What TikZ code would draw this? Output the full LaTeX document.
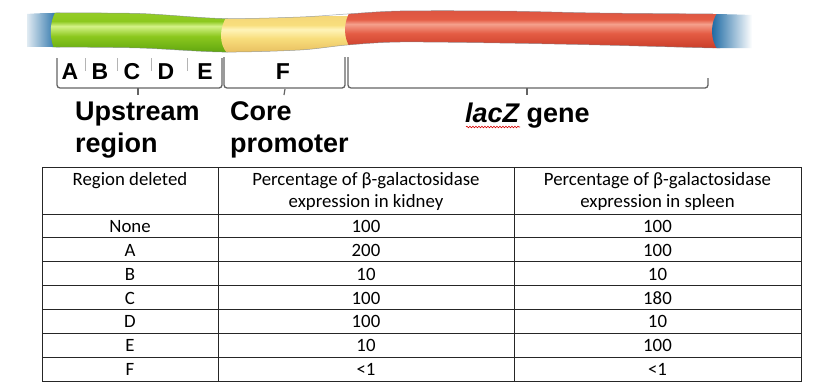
\documentclass[tikz,border=0pt]{standalone}
\usepackage{fontspec}
\setmainfont{Carlito}
\newfontfamily\arialfont{Liberation Sans}
\usetikzlibrary{decorations.pathmorphing}
\definecolor{gT}{RGB}{150,205,40}
\definecolor{gL}{RGB}{212,242,135}
\definecolor{gM}{RGB}{140,200,30}
\definecolor{gD}{RGB}{95,165,15}
\definecolor{yT}{RGB}{245,215,120}
\definecolor{yL}{RGB}{255,244,185}
\definecolor{yM}{RGB}{248,222,125}
\definecolor{yD}{RGB}{232,190,95}
\definecolor{rT}{RGB}{220,85,65}
\definecolor{rL}{RGB}{245,160,140}
\definecolor{rM}{RGB}{228,92,68}
\definecolor{rD}{RGB}{200,60,40}
\definecolor{blueE}{RGB}{20,100,160}
\definecolor{brkgray}{RGB}{100,100,100}
\definecolor{tickgray}{RGB}{180,180,180}
\definecolor{edgegray}{RGB}{120,130,140}
\pgfdeclareverticalshading{greentube}{100bp}{color(0bp)=(gD); color(25bp)=(gD); color(45bp)=(gM); color(57bp)=(gL); color(63bp)=(gM); color(75bp)=(gT); color(100bp)=(gT)}
\pgfdeclareverticalshading{yellowtube}{100bp}{color(0bp)=(yD); color(25bp)=(yD); color(45bp)=(yM); color(57bp)=(yL); color(63bp)=(yM); color(75bp)=(yT); color(100bp)=(yT)}
\pgfdeclareverticalshading{redtube}{100bp}{color(0bp)=(rD); color(25bp)=(rD); color(45bp)=(rM); color(57bp)=(rL); color(63bp)=(rM); color(75bp)=(rT); color(100bp)=(rT)}
\tikzset{
  brk/.style={draw=brkgray, line width=1.3pt, rounded corners=3pt},
  septick/.style={draw=tickgray, line width=0.9pt},
  letterlbl/.style={font=\arialfont\bfseries\fontsize{23}{27}\selectfont, anchor=base, inner sep=0pt},
  biglbl/.style={font=\arialfont\bfseries\fontsize{27}{32}\selectfont, anchor=base west, inner sep=0pt},
  cell/.style={font=\fontsize{18.8}{22}\selectfont, anchor=base, inner sep=0pt},
  tline/.style={draw=black!85, line width=0.9pt}
}
\begin{document}
\begin{tikzpicture}[x=1pt,y=-1pt]
\useasboundingbox[fill=white] (0,0) rectangle (840,391);
% ---- tube ----
\begin{scope}
\clip plot[smooth] coordinates {(27,14) (52,13) (140,13.5) (222,18.5) (300,17) (347,14) (400,11) (500,11) (600,13) (713,14) (752,15)}
  -- plot[smooth] coordinates {(752,48) (713,48) (600,45) (500,43) (400,42) (347,45) (300,50) (222,52) (140,48) (52,47) (27,47)} -- cycle;
\shade[left color=white, right color=blueE] (22,0) rectangle (60,60);
\shade[shading=greentube] (56,11) .. controls (49,22) and (49,40) .. (56,53) -- (228,53) -- (228,11) -- cycle;
\shade[shading=yellowtube] (227,16) .. controls (219,28) and (219,44) .. (227,53) -- (353,53) -- (353,16) -- cycle;
\shade[shading=redtube] (351,10) .. controls (343,22) and (343,38) .. (351,49) -- (720,49) -- (720,10) -- cycle;
\shade[left color=blueE, right color=white] (718,12) .. controls (710,22) and (710,40) .. (718,50) -- (752,50) -- (752,12) -- cycle;
\end{scope}
\draw[edgegray, line width=0.5pt, opacity=0.7] plot[smooth] coordinates {(56,13) (140,13.5) (222,18.5) (300,17) (347,14) (400,11) (500,11) (600,13) (713,14)};
\draw[edgegray, line width=0.5pt, opacity=0.7] plot[smooth] coordinates {(713,48) (600,45) (500,43) (400,42) (347,45) (300,50) (222,52) (140,48) (56,47)};
% ---- brackets ----
\draw[brk] (57,58) -- (57,88) -- (222,88) -- (222,58);
\draw[brk] (224,57) -- (224,88) -- (345,88) -- (345,57);
\draw[brk] (348,57) -- (348,88) -- (708,88) -- (708,78);
\draw[brkgray, line width=1.2pt] (138,88) -- (138,95);
\draw[brkgray, line width=1.2pt] (285,89) -- (284,95);
\draw[brkgray, line width=1.2pt] (527,88) -- (527,95);
\foreach \x in {85,117,151,187} \draw[septick] (\x,58) -- (\x,71);
\node[letterlbl] (lA) at (70,79) {A};
\node[letterlbl] (lB) at (100,79) {B};
\node[letterlbl] (lC) at (132,79) {C};
\node[letterlbl] (lD) at (166,79) {D};
\node[letterlbl] (lE) at (205,79) {E};
\node[letterlbl] (lF) at (283,79) {F};
\node[biglbl] (up1) at (75,120) {Upstream};
\node[biglbl] (up2) at (75,152) {region};
\node[biglbl] (co1) at (230,120) {Core};
\node[biglbl] (co2) at (230,152) {promoter};
\node[biglbl] (lac) at (465,122) {\itshape lacZ\upshape{} gene};
\draw[red!85!black, line width=0.6pt, decorate, decoration={snake, amplitude=0.8pt, segment length=3pt}] (466,127) -- (520,127);
% ---- table ----
\draw[tline] (42,167) rectangle (801,381);
\draw[tline] (218,167) -- (218,381);
\draw[tline] (514,167) -- (514,381);
\draw[tline] (42,214) -- (801,214);
\foreach \k in {1,...,6} \draw[tline] (42,{214+23.857*\k}) -- (801,{214+23.857*\k});
\node[cell] (h1) at (130,185) {Region deleted};
\node[cell] (h2a) at (366,185) {Percentage of β-galactosidase};
\node[cell] (h2b) at (366,207) {expression in kidney};
\node[cell] (h3a) at (657.5,185) {Percentage of β-galactosidase};
\node[cell] (h3b) at (657.5,207) {expression in spleen};
\foreach \r/\a/\b/\c [count=\i from 0] in {None/100/100, A/200/100, B/10/10, C/100/180, D/100/10, E/10/100, F/<1/<1} {
  \node[cell] (r\i a) at (130,{232.5+23.857*\i}) {\r};
  \node[cell] (r\i b) at (366,{232.5+23.857*\i}) {\a};
  \node[cell] (r\i c) at (657.5,{232.5+23.857*\i}) {\b};
}
\end{tikzpicture}
\end{document}
